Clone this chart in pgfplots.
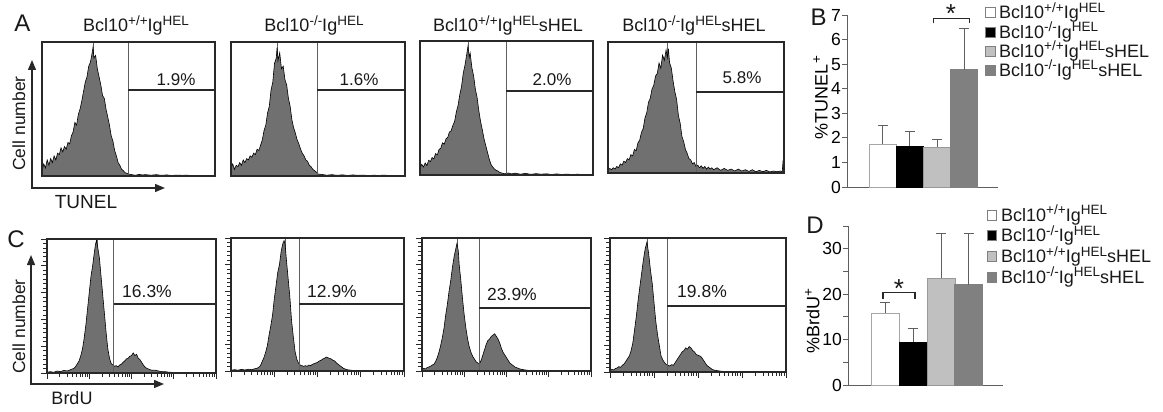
\documentclass[border=0pt]{standalone}
\usepackage{fontspec}
\setmainfont{Liberation Sans}
\usepackage{graphicx}
\usepackage{pgfplots}
\pgfplotsset{compat=1.18}
\usetikzlibrary{arrows.meta}
\definecolor{histfill}{RGB}{112,112,112}
\definecolor{gline}{RGB}{95,95,95}
\definecolor{boxc}{RGB}{40,40,40}
\definecolor{barC}{RGB}{192,192,192}
\definecolor{barD}{RGB}{128,128,128}
\newcommand{\fs}[1]{\fontsize{#1pt}{#1pt}\selectfont}
\newcommand{\su}[1]{\raisebox{0.36em}{\scalebox{0.75}{#1}}}
\pgfplotsset{
  hbase/.style={scale only axis, axis on top, anchor=south west,
    xmin=0,xmax=100,ymin=0,ymax=100,
    axis line style={boxc,line width=1.3pt}},
  histA/.style={hbase, ticks=none},
  histC/.style={hbase, tick pos=left, tick align=outside,
    xtick={0,25,50,75,100},
    minor xtick={7.5,11.9,15.1,17.5,19.5,21.1,22.6,23.9,32.5,36.9,40.1,42.5,44.5,46.1,47.6,48.9,57.5,61.9,65.1,67.5,69.5,71.1,72.6,73.9,82.5,86.9,90.1,92.5,94.5,96.1,97.6,98.9},
    ytick={0,20,...,100}, minor y tick num=5,
    xticklabels={}, yticklabels={},
    major tick length=6pt, minor tick length=4pt,
    tick style={boxc,line width=0.8pt}},
  hist/.style={fill=histfill, draw=black, line width=0.6pt},
  barax/.style={scale only axis, anchor=south west, axis lines=left,
    axis line style={-,gline,line width=1pt},
    xtick=\empty, tick align=outside, major tick length=5pt,
    tick style={gline,line width=1pt},
    yticklabel style={font=\fs{17.5}, inner sep=1pt},
    /pgf/number format/assume math mode=true,
    ybar, bar shift=0pt, clip=false,
    error bars/y dir=plus, error bars/y explicit,
    error bars/error bar style={gline,line width=1pt},
    error bars/error mark options={gline,rotate=90,mark size=5pt,line width=1pt}},
}
\begin{document}
\begin{tikzpicture}
\useasboundingbox (0,0) rectangle (1163pt,-412pt);

% ---------------- Panel A ----------------
\begin{axis}[histA, at={(42pt,-176pt)}, width=173pt, height=134pt]
\draw[gline,line width=0.8pt] (axis cs:29.5,0) -- (axis cs:29.5,100);
\addplot[hist] coordinates {(0,4)(1,9)(2,6)(3,12)(4,8)(5,13)(6,10)(7,15)(8,12)(9,17)(10,16)(11,21)(12,18)(13,22)(14,20)(15,25)(16,24)(17,30)(18,33)(19,40)(20,38)(21,46)(22,50)(23,56)(24,63)(25,70)(26,74)(27,82)(28,85)(29,92)(29.5,96)(30,88)(31,90)(32,80)(33,74)(34,68)(35,60)(36,58)(37,50)(38,44)(39,38)(40,30)(41,26)(42,19)(43,15)(44,10)(45,8)(46,5)(47,4)(48,2.5)(49,2)(50,1.5)(52,1)(54,0.5)(56,1.2)(58,0.8)(60,1)(63,0.6)(66,1)(69,0.5)(72,0.8)(75,0.4)(78,0.7)(81,0.5)(84,0.6)(87,0.3)(90,0.5)(93,0.4)(96,0.5)(100,0.3)} \closedcycle;
\draw[gline,line width=0.9pt] (axis cs:49.7,0) -- (axis cs:49.7,100);
\draw[boxc,line width=1.2pt] (axis cs:49.7,64.2) -- (axis cs:100,64.2);
\end{axis}

\begin{axis}[histA, at={(231pt,-176pt)}, width=174pt, height=134pt]
\draw[gline,line width=0.8pt] (axis cs:26.4,0) -- (axis cs:26.4,100);
\addplot[hist] coordinates {(0,6)(1,9)(2,5)(3,8)(4,7)(5,10)(6,8)(7,12)(8,10)(9,13)(10,12)(11,15)(12,14)(13,17)(14,16)(15,20)(16,19)(17,23)(18,27)(19,34)(20,38)(21,47)(22,52)(23,64)(24,70)(25,84)(26,88)(26.5,96)(27,86)(28,92)(29,80)(30,82)(31,72)(32,68)(33,58)(34,52)(35,42)(36,36)(37,32)(38,27)(39,24)(40,20)(41,17)(42,15)(43,12)(44,11)(45,8)(46,7)(47,5)(48,4)(49,3)(50,1.5)(52,1.2)(55,0.6)(58,1)(61,0.5)(64,0.9)(67,0.4)(70,0.8)(73,0.5)(76,0.7)(79,0.3)(82,0.6)(85,0.4)(88,0.7)(91,0.3)(94,0.5)(97,0.4)(100,0.3)} \closedcycle;
\draw[gline,line width=0.9pt] (axis cs:49.4,0) -- (axis cs:49.4,100);
\draw[boxc,line width=1.2pt] (axis cs:49.4,64.2) -- (axis cs:100,64.2);
\end{axis}

\begin{axis}[histA, at={(420pt,-175pt)}, width=173pt, height=134pt]
\draw[gline,line width=0.8pt] (axis cs:27.7,0) -- (axis cs:27.7,100);
\addplot[hist] coordinates {(0,5)(1,8)(2,6)(3,9)(4,7)(5,11)(6,10)(7,13)(8,12)(9,16)(10,15)(11,19)(12,20)(13,24)(14,23)(15,27)(16,28)(17,32)(18,33)(19,37)(20,40)(21,47)(22,52)(23,60)(24,66)(25,76)(26,82)(27,90)(27.7,96)(28.5,88)(29,91)(30,80)(31,74)(32,64)(33,58)(34,48)(35,40)(36,34)(37,27)(38,22)(39,17)(40,12)(41,8)(42,6)(43,4.5)(44,3.5)(45,3)(46,2)(47,1.6)(48,1.2)(49,0.9)(51,1.5)(53,0.8)(55,1.4)(58,0.6)(61,1.2)(64,0.5)(67,1)(70,0.6)(73,0.9)(76,0.4)(79,0.8)(82,0.4)(85,0.7)(88,0.3)(91,0.6)(94,0.3)(97,0.5)(100,0.3)} \closedcycle;
\draw[gline,line width=0.9pt] (axis cs:49.7,0) -- (axis cs:49.7,100);
\draw[boxc,line width=1.2pt] (axis cs:49.7,62.7) -- (axis cs:100,62.7);
\end{axis}

\begin{axis}[histA, at={(608pt,-173pt)}, width=176pt, height=131pt]
\draw[gline,line width=0.8pt] (axis cs:34,0) -- (axis cs:34,100);
\addplot[hist] coordinates {(0,2)(1,3.5)(2,2.5)(3,4)(4,3)(5,5)(6,4)(7,7)(8,6)(9,9)(10,8)(11,11)(12,10)(13,14)(14,13)(15,18)(16,17)(17,23)(18,25)(19,31)(20,34)(21,42)(22,46)(23,54)(24,57)(25,64)(26,67)(27,74)(28,76)(29,84)(30,80)(31,90)(32,86)(33,94)(33.7,88)(34.3,95)(35,84)(36,80)(37,70)(38,62)(39,56)(40,44)(41,38)(42,28)(43,24)(44,18)(45,15)(46,11)(47,10)(48,7)(49,8)(50,5)(51,6)(52,4)(53,5.5)(54,3.5)(55,5)(56,3)(57,4.5)(58,3)(59,4)(60,2.5)(62,4)(64,2)(66,3.5)(68,2)(70,3)(72,1.5)(74,3)(76,1.5)(78,2.5)(80,1.2)(82,2.5)(84,1)(86,2)(88,1)(90,2)(92,0.8)(94,1.5)(96,1)(98,1.5)(99,1)(99.5,10)(100,0)} \closedcycle;
\draw[gline,line width=0.9pt] (axis cs:50,0) -- (axis cs:50,100);
\draw[boxc,line width=1.2pt] (axis cs:50,61.8) -- (axis cs:100,61.8);
\end{axis}

% ---------------- Panel C ----------------
\begin{axis}[histC, at={(47pt,-373pt)}, width=169pt, height=134pt]
\draw[gline,line width=0.8pt] (axis cs:29.6,0) -- (axis cs:29.6,100);
\addplot[hist] coordinates {(0,0.5)(2,1)(4,0.5)(6,1.5)(8,1)(10,2)(12,1.5)(14,2.5)(15,3)(16,3.5)(17,5)(18,7)(19,9)(20,13)(21,18)(22,26)(23,36)(24,48)(25,60)(26,72)(27,80)(28,90)(28.7,96)(29.3,99)(30,94)(31,86)(32,72)(33,58)(34,44)(35,30)(36,18)(37,11)(38,7)(39,6)(40,5)(41,5.5)(42,4.5)(43,6)(44,6.5)(45,8)(46,9)(47,10.5)(48,11)(49,12.5)(50,13)(51,15)(52,13)(53,14)(54,11)(55,10)(56,8)(57,6)(58,4.5)(59,3.5)(60,3)(61,2.5)(62,2)(64,2.2)(66,1.5)(68,1)(70,1)(72,0.6)(74,0.5)(76,0.3)(80,0.2)(100,0.1)} \closedcycle;
\draw[gline,line width=0.9pt] (axis cs:39.6,0) -- (axis cs:39.6,100);
\draw[boxc,line width=1.2pt] (axis cs:39.6,51.5) -- (axis cs:100,51.5);
\end{axis}

\begin{axis}[histC, at={(231pt,-371pt)}, width=173pt, height=133pt]
\draw[gline,line width=0.8pt] (axis cs:31.2,0) -- (axis cs:31.2,100);
\addplot[hist] coordinates {(0,0.5)(2,1)(4,0.6)(6,1.2)(8,0.8)(10,1.3)(12,1)(14,1.8)(15,2)(16,2.8)(17,4)(18,7)(19,10)(20,14)(21,19)(22,27)(23,34)(24,42)(25,54)(26,64)(27,74)(28,80)(29,90)(30,96)(30.7,98)(31.3,95)(32,84)(33,70)(34,56)(35,38)(36,26)(37,15)(38,9)(39,6)(40,4.5)(41,4)(42,3.5)(43,4)(44,3.5)(45,4.5)(46,4)(47,5)(48,5.5)(49,6)(50,6.5)(51,7.5)(52,8)(53,9)(54,9.5)(55,10.5)(56,10)(57,9.5)(58,9)(59,8)(60,7.5)(61,6)(62,5)(63,4)(64,3)(65,2)(66,1.5)(67,1)(68,0.8)(70,0.5)(72,0.3)(76,0.2)(100,0.1)} \closedcycle;
\draw[gline,line width=0.9pt] (axis cs:39.3,0) -- (axis cs:39.3,100);
\draw[boxc,line width=1.2pt] (axis cs:39.3,50.4) -- (axis cs:100,50.4);
\end{axis}

\begin{axis}[histC, at={(422pt,-371pt)}, width=169pt, height=133pt]
\draw[gline,line width=0.8pt] (axis cs:20.7,0) -- (axis cs:20.7,100);
\addplot[hist] coordinates {(0,1)(1,2)(2,1.5)(3,2.5)(4,3)(5,3.5)(6,4.5)(7,5)(8,7)(9,10)(10,14)(11,19)(12,25)(13,32)(14,42)(15,50)(16,60)(17,68)(18,78)(19,86)(20,92)(20.7,96)(21.5,90)(22,80)(23,68)(24,54)(25,42)(26,32)(27,24)(28,18)(29,14)(30,11)(31,9)(32,7)(33,6)(34,5.5)(35,8)(36,12)(37,16)(38,20)(39,23)(40,24)(41,26)(42,27)(43,28)(44,26)(45,24)(46,21)(47,17)(48,14)(49,12)(50,10)(51,8)(52,6)(53,5)(54,4)(55,3)(56,2.5)(57,2)(58,1.5)(60,1)(62,0.6)(64,0.4)(68,0.2)(100,0.1)} \closedcycle;
\draw[gline,line width=0.9pt] (axis cs:33.7,0) -- (axis cs:33.7,100);
\draw[boxc,line width=1.2pt] (axis cs:33.7,47.4) -- (axis cs:100,47.4);
\end{axis}

\begin{axis}[histC, at={(610pt,-372pt)}, width=176pt, height=134pt]
\draw[gline,line width=0.8pt] (axis cs:21,0) -- (axis cs:21,100);
\addplot[hist] coordinates {(0,1)(1,2)(2,1.5)(3,2.5)(4,3)(5,4)(6,3.5)(7,5)(8,6)(9,8)(10,10)(11,12)(12,16)(13,22)(14,32)(15,42)(16,54)(17,64)(18,74)(19,84)(20,92)(21,97)(22,88)(23,76)(24,66)(25,52)(26,38)(27,28)(28,20)(29,12)(30,9)(31,7)(32,5.5)(33,5)(34,4.5)(35,5.5)(36,5)(37,7)(38,9)(39,11)(40,13)(41,15)(42,16)(43,18)(44,17)(45,19)(46,18)(47,16)(48,15)(49,13)(50,12.5)(51,12)(52,11)(53,9)(54,7)(55,5)(56,4)(57,3)(58,2)(59,1.5)(60,1.2)(62,0.8)(64,0.5)(66,0.3)(70,0.2)(100,0.1)} \closedcycle;
\draw[gline,line width=0.9pt] (axis cs:32.4,0) -- (axis cs:32.4,100);
\draw[boxc,line width=1.2pt] (axis cs:32.4,49.3) -- (axis cs:100,49.3);
\end{axis}

% ---------------- Panel B ----------------
\begin{axis}[barax, at={(847pt,-187pt)}, width=151pt, height=172pt,
  xmin=0, xmax=151, ymin=0, ymax=7, ytick={0,...,7}, bar width=27pt,
  ylabel={\%TUNEL\su{+}},
  ylabel style={font=\fs{18}, at={(axis description cs:-0.175,0.52)}, anchor=center}]
\addplot[fill=white, draw=gray!70] coordinates {(35.5,1.75) +- (0,0.77)};
\addplot[fill=black, draw=black] coordinates {(62.5,1.67) +- (0,0.57)};
\addplot[fill=barC, draw=gray!80] coordinates {(90,1.63) +- (0,0.30)};
\addplot[fill=barD, draw=gray] coordinates {(117,4.78) +- (0,1.67)};
\draw[boxc,line width=1pt] (axis cs:86,6.66) -- (axis cs:86,6.87) -- (axis cs:122,6.87) -- (axis cs:122,6.66);
\end{axis}

% ---------------- Panel D ----------------
\begin{axis}[barax, at={(848pt,-385pt)}, width=155pt, height=159pt,
  xmin=0, xmax=155, ymin=0, ymax=35, ytick={0,5,...,35},
  yticklabels={0,,10,,20,,30,}, bar width=28pt,
  ylabel={\%BrdU\su{+}},
  ylabel style={font=\fs{18}, at={(axis description cs:-0.23,0.40)}, anchor=center}]
\addplot[fill=white, draw=gray!70] coordinates {(37,15.9) +- (0,2.2)};
\addplot[fill=black, draw=black] coordinates {(65,9.5) +- (0,2.9)};
\addplot[fill=barC, draw=gray!80] coordinates {(93,23.6) +- (0,9.7)};
\addplot[fill=barD, draw=gray] coordinates {(120.5,22.1) +- (0,11.2)};
\draw[boxc,line width=1.2pt] (axis cs:35,18.9) -- (axis cs:35,20.3) -- (axis cs:67,20.3) -- (axis cs:67,18.9);
\end{axis}

% ---------------- Texts ----------------
\begin{scope}[every node/.style={inner sep=0pt, text=black!90}]
\node[font=\fs{24}, anchor=base] at (22.5pt,-32pt) {A};
\node[font=\fs{24}, anchor=base] at (818.5pt,-26pt) {B};
\node[font=\fs{24}, anchor=base] at (16pt,-247pt) {C};
\node[font=\fs{24}, anchor=base] at (815pt,-233pt) {D};

\node[font=\fs{18}, anchor=base] at (136pt,-32pt) {Bcl10\su{+/+}Ig\su{HEL}};
\node[font=\fs{18}, anchor=base] at (314pt,-32pt) {Bcl10\su{-/-}Ig\su{HEL}};
\node[font=\fs{18}, anchor=base] at (508pt,-32pt) {Bcl10\su{+/+}Ig\su{HEL}sHEL};
\node[font=\fs{18}, anchor=base] at (694pt,-32pt) {Bcl10\su{-/-}Ig\su{HEL}sHEL};

\node[font=\fs{17}, anchor=base] at (176pt,-85pt) {1.9\%};
\node[font=\fs{17}, anchor=base] at (359pt,-85pt) {1.6\%};
\node[font=\fs{17}, anchor=base] at (552pt,-86pt) {2.0\%};
\node[font=\fs{17}, anchor=base] at (742pt,-84pt) {5.8\%};
\node[font=\fs{17.5}, anchor=base] at (147pt,-297pt) {16.3\%};
\node[font=\fs{17.5}, anchor=base] at (332pt,-297pt) {12.9\%};
\node[font=\fs{17.5}, anchor=base] at (512pt,-300pt) {23.9\%};
\node[font=\fs{17.5}, anchor=base] at (702pt,-297pt) {19.8\%};

\node[font=\fs{17.5}, anchor=base, rotate=90] at (25pt,-123.5pt) {Cell number};
\node[font=\fs{17.5}, anchor=base, rotate=90] at (25pt,-326.5pt) {Cell number};
\node[font=\fs{19}, anchor=base] at (86pt,-208pt) {TUNEL};
\node[font=\fs{18}, anchor=base] at (72pt,-404pt) {BrdU};

\node[font=\fs{26}, anchor=base] at (951pt,-23pt) {*};
\node[font=\fs{26}, anchor=base] at (899pt,-297.5pt) {*};
\end{scope}

% arrows
\draw[boxc,line width=1.3pt,-{Triangle[length=10pt,width=8pt]}] (32pt,-188pt) -- (32pt,-60pt);
\draw[boxc,line width=1.3pt,-{Triangle[length=10pt,width=8pt]}] (31.35pt,-188pt) -- (165pt,-188pt);
\draw[boxc,line width=1.3pt,-{Triangle[length=10pt,width=8pt]}] (31pt,-384pt) -- (31pt,-255pt);
\draw[boxc,line width=1.3pt,-{Triangle[length=10pt,width=8pt]}] (30.35pt,-384pt) -- (164pt,-384pt);

% legends
\begin{scope}[every node/.style={inner sep=0pt, font=\fs{18}, anchor=base west, text=black!90}]
\draw[gray, line width=0.8pt, fill=white] (985pt,-7.5pt) rectangle (995pt,-17.5pt);
\node at (999pt,-18.9pt) {Bcl10\su{+/+}Ig\su{HEL}};
\draw[gray, line width=0.8pt, fill=black] (985pt,-27pt) rectangle (995pt,-37pt);
\node at (999pt,-38.4pt) {Bcl10\su{-/-}Ig\su{HEL}};
\draw[gray, line width=0.8pt, fill=barC] (985pt,-46pt) rectangle (995pt,-56pt);
\node at (999pt,-57.4pt) {Bcl10\su{+/+}Ig\su{HEL}sHEL};
\draw[gray, line width=0.8pt, fill=barD] (985pt,-65pt) rectangle (995pt,-75pt);
\node at (999pt,-76.4pt) {Bcl10\su{-/-}Ig\su{HEL}sHEL};

\draw[gray, line width=0.8pt, fill=white] (987pt,-210pt) rectangle (996pt,-220pt);
\node at (1001pt,-221.4pt) {Bcl10\su{+/+}Ig\su{HEL}};
\draw[gray, line width=0.8pt, fill=black] (987pt,-230.5pt) rectangle (996pt,-240.5pt);
\node at (1001pt,-241.9pt) {Bcl10\su{-/-}Ig\su{HEL}};
\draw[gray, line width=0.8pt, fill=barC] (987pt,-251.5pt) rectangle (996pt,-261.5pt);
\node at (1001pt,-262.9pt) {Bcl10\su{+/+}Ig\su{HEL}sHEL};
\draw[gray, line width=0.8pt, fill=barD] (987pt,-272pt) rectangle (996pt,-282pt);
\node at (1001pt,-283.4pt) {Bcl10\su{-/-}Ig\su{HEL}sHEL};
\end{scope}
\end{tikzpicture}
\end{document}
